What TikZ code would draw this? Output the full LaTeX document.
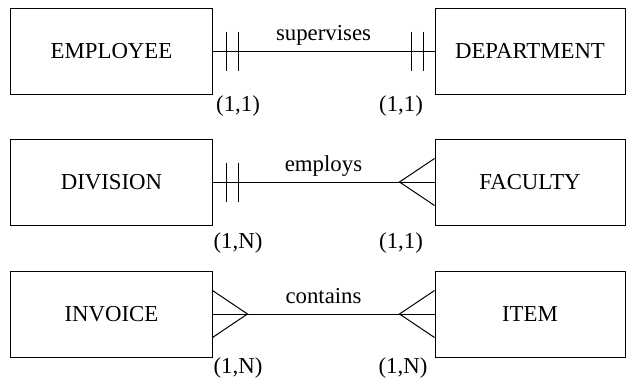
\documentclass[tikz,border=0pt]{standalone}
\usepackage{fontspec}
\setmainfont{Liberation Serif}
\newfontfamily\erfont{Liberation Serif}
\begin{document}
\begin{tikzpicture}[x=1bp,y=-1bp,line width=1bp,
  every node/.style={font=\erfont\fontsize{22.8bp}{27bp}\selectfont},
  leftent/.style={draw,rectangle,inner sep=0pt,minimum width=201bp,minimum height=86bp},
  rightent/.style={draw,rectangle,inner sep=0pt,minimum width=190bp,minimum height=86bp},
  rellabel/.style={anchor=base,inner sep=0pt,yshift=11bp},
  card/.style={anchor=base,inner sep=0pt}]
\useasboundingbox (0,0) rectangle (627,377);

% entities
\node[leftent]  (emp)  at (111.5,51)  {EMPLOYEE};
\node[rightent] (dept) at (530,51)    {DEPARTMENT};
\node[leftent]  (div)  at (111.5,182) {DIVISION};
\node[rightent] (fac)  at (530,182)   {FACULTY};
\node[leftent]  (inv)  at (111.5,314) {INVOICE};
\node[rightent] (item) at (530,314)   {ITEM};

% relationships
\draw (emp.east) -- node[rellabel] {supervises} (dept.west);
\draw (div.east) -- node[rellabel] {employs} (fac.west);
\draw (inv.east) -- node[rellabel] {contains} (item.west);

% one-and-only-one bars
\foreach \b/\d in {emp.east/14, emp.east/26, div.east/14, div.east/26,
                   dept.west/-23, dept.west/-11}
  \draw ([xshift=\d bp,yshift=19.5bp]\b) -- ([xshift=\d bp,yshift=-19.5bp]\b);

% crow's feet
\coordinate (facapex)  at ([xshift=-35bp]fac.west);
\coordinate (itemapex) at ([xshift=-35bp]item.west);
\coordinate (invapex)  at ([xshift=35bp]inv.east);
\draw ([yshift=23.5bp]fac.west) -- (facapex) -- ([yshift=-23.5bp]fac.west);
\draw ([yshift=23.5bp]item.west) -- (itemapex) -- ([yshift=-23.5bp]item.west);
\draw ([yshift=23.5bp]inv.east) -- (invapex) -- ([yshift=-23.5bp]inv.east);

% cardinalities
\node[card] (c1) at (238,111) {(1,1)};
\node[card] (c2) at (401,111) {(1,1)};
\node[card] (c3) at (238,248) {(1,N)};
\node[card] (c4) at (401,248) {(1,1)};
\node[card] (c5) at (238,373) {(1,N)};
\node[card] (c6) at (403,373) {(1,N)};
\end{tikzpicture}
\end{document}
